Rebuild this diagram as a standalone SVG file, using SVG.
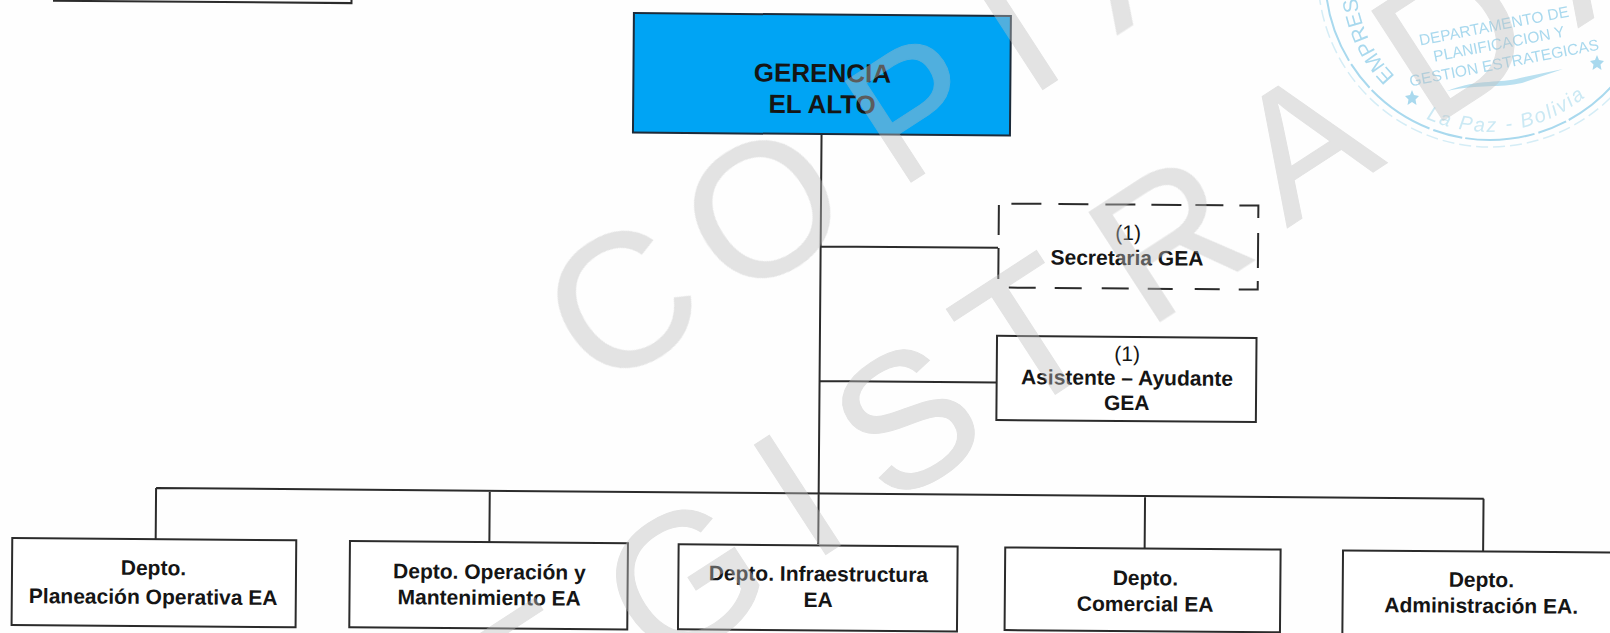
<svg xmlns="http://www.w3.org/2000/svg" width="1610" height="633" viewBox="0 0 1610 633">
<style>
.box{fill:#fff;stroke:#2b2b2b;stroke-width:2}
.line{fill:none;stroke:#2b2b2b;stroke-width:2}
text{font-family:"Liberation Sans",Arial,sans-serif;text-anchor:middle;fill:#151515}
.lbl{font-size:21px;font-weight:700}
.num{font-size:21px;font-weight:400}
.head{font-size:26px;font-weight:700}
.wm{font-size:190px;text-anchor:start;fill:#bebebe;stroke:#bebebe;stroke-width:1}
.st{fill:#a9d9ee;font-size:15.5px}
</style>
<defs>
<filter id="soft" x="-5%" y="-5%" width="110%" height="110%"><feGaussianBlur stdDeviation="0.5"/></filter>
<path id="ringL" d="M1395,76 A134,134 0 0 1 1356,-25"/>
<path id="ringB" d="M1400,104 A153,153 0 0 0 1610,71"/>
</defs>
<rect width="1610" height="633" fill="#fefefe"/>
<g id="stamp" filter="url(#soft)">
<circle cx="1490" cy="-25" r="165" fill="none" stroke="#a9d9ee" stroke-width="2" stroke-dasharray="70 3 30 4"/>
<circle cx="1490" cy="-25" r="172" fill="none" stroke="#d5edf6" stroke-width="1.500" stroke-dasharray="12 5"/>
<text class="st" style="font-size:21px;text-anchor:start"><textPath href="#ringL">EMPRES</textPath></text>
<text class="st" style="font-size:20px;letter-spacing:2px;text-anchor:start;fill:#cbe9f4;font-style:italic"><textPath href="#ringB" startOffset="30">La Paz - Bolivia</textPath></text>
<text class="st" transform="translate(1495,31) rotate(-11)">DEPARTAMENTO DE</text>
<text class="st" transform="translate(1500,49) rotate(-11)">PLANIFICACION Y</text>
<text class="st" transform="translate(1505,68) rotate(-11)">GESTION ESTRATEGICAS</text>
<path d="M1447,91 C1480,78 1500,84 1520,78 L1563,69 L1522,83 C1500,88 1480,84 1447,91Z" fill="#b9e0f0"/>
<path d="M1412,90 l2,5 5,1 -3.500,3.500 1,5.500 -4.500,-3 -4.500,3 1,-5.500 -3.500,-3.500 5,-1Z" fill="#a9d9ee"/>
<path d="M1597,55 l2,5 5,1 -3.500,3.500 1,5.500 -4.500,-3 -4.500,3 1,-5.500 -3.500,-3.500 5,-1Z" fill="#a9d9ee"/>
</g>
<g transform="rotate(0.46)">
<g id="connectors">
<path class="line" d="M822.600,128V537.500M823,239.800H1000M822.500,374.400H999.700M160,486.800H1487.700M160,486.800V537.900M493.700,486.800V538.200M1149,486.800V539.300M1487.500,486.800V539.600"/>
</g>
<g id="box-topleft"><path class="line" d="M54,-10V0.300H351.500V-10"/></g>
<g id="gerencia">
<rect x="634" y="8" width="377" height="119.500" fill="#00a4f4" stroke="#1c2b3a" stroke-width="2"/>
<text class="head" x="823" y="75.400">GERENCIA</text>
<text class="head" x="823" y="106.600">EL ALTO</text>
</g>
<g id="secretaria">
<path class="line" d="M1000.500,197V227M1000.500,240V271M1013,195.500H1043M1060,195.500H1090M1107,195.500H1137M1153,195.500H1183M1197,195.500H1225M1241,195.500H1260V208M1260,223V258M1260,271V279.500H1241M1222,279.500H1197M1175,279.500H1150M1131,279.500H1104M1084,279.500H1057M1038,279.500H1011"/>
<text class="num" x="1130" y="231">(1)</text>
<text class="lbl" x="1129" y="256">Secretaria GEA</text>
</g>
<g id="asistente">
<rect class="box" x="999.700" y="327.800" width="259.500" height="84.200"/>
<text class="num" x="1130" y="352">(1)</text>
<text class="lbl" x="1130" y="376">Asistente – Ayudante</text>
<text class="lbl" x="1130" y="401">GEA</text>
</g>
<g id="planeacion">
<rect class="box" x="16.600" y="537.900" width="284" height="87"/>
<text class="lbl" x="158" y="573.800">Depto.</text>
<text class="lbl" x="158" y="602.800">Planeación Operativa EA</text>
</g>
<g id="operacion">
<rect class="box" x="354.300" y="538.200" width="278" height="86.200"/>
<text class="lbl" x="494" y="575">Depto. Operación y</text>
<text class="lbl" x="494" y="601">Mantenimiento EA</text>
</g>
<g id="infraestructura">
<rect class="box" x="683" y="538.800" width="279" height="85"/>
<text class="lbl" x="823" y="574.500">Depto. Infraestructura</text>
<text class="lbl" x="823" y="600.500">EA</text>
</g>
<g id="comercial">
<rect class="box" x="1009.600" y="539.300" width="275.400" height="82.700"/>
<text class="lbl" x="1150" y="576">Depto.</text>
<text class="lbl" x="1150" y="602">Comercial EA</text>
</g>
<g id="administracion">
<rect class="box" x="1347.400" y="539.600" width="300" height="100"/>
<text class="lbl" x="1486" y="575">Depto.</text>
<text class="lbl" x="1486" y="601">Administración EA.</text>
</g>
</g>
<g id="watermark" opacity="0.42">
<text class="wm" transform="translate(599,394) rotate(-33)">C</text>
<text class="wm" transform="translate(736,304) rotate(-33)">O</text>
<text class="wm" style="font-size:175px" transform="translate(899,190) rotate(-33)">P</text>
<text class="wm" transform="translate(1028,99) rotate(-33)">I</text>
<text class="wm" transform="translate(1117,35) rotate(-33)">A</text>
<text class="wm" transform="translate(510,770) rotate(-33)">E</text>
<text class="wm" transform="translate(658,675) rotate(-33)">G</text>
<text class="wm" transform="translate(811,564) rotate(-33)">I</text>
<text class="wm" transform="translate(889,509) rotate(-33)">S</text>
<text class="wm" transform="translate(1014,421) rotate(-33)">T</text>
<text class="wm" transform="translate(1147,330) rotate(-33)">R</text>
<text class="wm" style="font-size:180px" transform="translate(1287,228) rotate(-33)">A</text>
<text class="wm" transform="translate(1430,129) rotate(-33)">D</text>
<text class="wm" transform="translate(1578,28) rotate(-33)">A</text>
</g>
</svg>
